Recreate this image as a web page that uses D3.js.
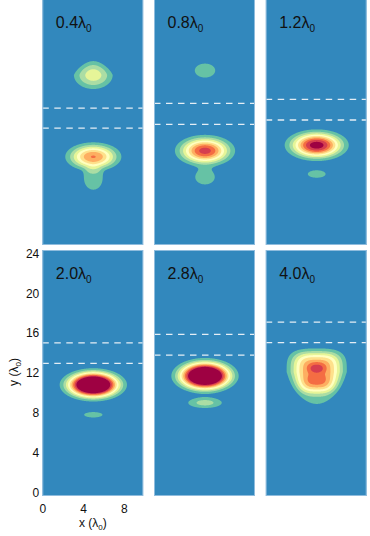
<!DOCTYPE html>
<html>
<head>
<meta charset="utf-8">
<script src="https://cdn.jsdelivr.net/npm/d3@7"></script>
<style>
body { margin: 0; background: #fff; }
svg { display: block; font-family: "Liberation Sans", Arial, sans-serif; }
</style>
</head>
<body>
<div id="chart"></div>
<script>
// propagation distance of each panel (in lambda0)
var times = [0.4, 0.8, 1.2, 2.0, 2.8, 4.0];
// dashed layer boundaries (y, lambda0)
var layerLow = [11.38, 11.76, 12.19, 12.96, 13.79, 15.03];
var layerHigh = [13.39, 13.86, 14.26, 15.02, 15.87, 17.1];

// intensity spots:
// panel, x centre, y centre, outer half width, outer half height, peak,
// flatness across, flatness along, taper (+ narrows above, - narrows below)
var blobs = [
    [0, 5.0, 16.7, 1.9, 1.4, 3.5, 1.2, 1.2, 0.3],
    [0, 5.0, 8.5, 2.75, 1.45, 7.05, 1.15, 1.15, 0],
    [0, 5.0, 6.3, 0.9, 1.1, 1.6, 2.0, 2.0, 0],
    [1, 5.0, 17.15, 1.0, 0.7, 1.4, 1.5, 1.5, 0],
    [1, 5.0, 9.1, 2.95, 1.6, 8.4, 1.15, 1.15, 0],
    [1, 5.0, 6.45, 0.95, 0.72, 1.6, 1.3, 1.3, 0],
    [2, 5.0, 9.66, 3.14, 1.59, 9.6, 1.15, 1.15, 0],
    [2, 5.0, 6.77, 0.87, 0.37, 1.3, 1.5, 1.5, 0],
    [3, 5.0, 10.8, 3.3, 1.67, 14, 1.3, 1.3, 0],
    [3, 5.0, 7.8, 0.9, 0.27, 1.3, 1.5, 1.5, 0],
    [4, 5.0, 11.7, 3.3, 1.8, 14, 1.3, 1.3, 0],
    [4, 5.0, 9.0, 1.64, 0.52, 2.3, 1.3, 1.3, 0],
    [5, 5.0, 12.1, 2.95, 2.35, 7.1, 1.55, 1.85, -0.25],
    [5, 5.0, 10.0, 1.3, 1.1, 1.4, 1.6, 1.6, 0],
    [5, 5.0, 12.5, 0.6, 0.38, 1.2, 2.0, 2.0, 0]
];

var levels = [1, 2, 3, 4, 5, 6, 7, 8, 9];
var levelColors = ["#66c2a5", "#abdda4", "#e6f598", "#ffffbf", "#fee08b",
                   "#fdae61", "#f46d43", "#d53e4f", "#9e0142"];
var background = "#3288bd";

var xTicks = [0, 4, 8];
var yTicks = [0, 4, 8, 12, 16, 20, 24];

var W = 370, H = 536;
var colLeft = [42.3, 154, 265.7];
var rowTop = [-1, 250];
var pw = 101, ph = 246;

var xScale = d3.scaleLinear().domain([0, 9.9]).range([0, pw]);
var yScale = d3.scaleLinear().domain([-0.35, 24.33]).range([ph, 0]);

// sampling grid
var gx0 = 0, gy0 = -0.5, step = 0.05;
var nx = 202, ny = 500;

function fieldFor(panel){
    var mine = blobs.filter(function(b){ return b[0] == panel; });
    var values = new Float64Array(nx * ny);
    mine.forEach(function(b){
        var cx = b[1], cy = b[2], rx = b[3], ry = b[4], A = b[5];
        var px = b[6], py = b[7], taper = b[8];
        var L = 2 * Math.log(A);
        var sx = rx / Math.pow(L, 1 / (2 * px)), sy = ry / Math.pow(L, 1 / (2 * py));
        var sgn = taper < 0 ? -1 : 1, ta = Math.abs(taper);
        var same = px == py;
        for(var j = 0; j < ny; j++){
            var dy = gy0 + j * step - cy;
            var f = 1 - ta * Math.max(0, sgn * dy) / ry;
            var sxe = sx * Math.max(0.25, f);
            var v = (dy / sy) * (dy / sy);
            for(var i = 0; i < nx; i++){
                var dx = gx0 + i * step - cx;
                var u = (dx / sxe) * (dx / sxe);
                var q = same ? Math.pow(u + v, px) : Math.pow(u, px) + Math.pow(v, py);
                values[i + j * nx] += A * Math.exp(-0.5 * q);
            }
        }
    });
    return values;
}

var svg = d3.select("#chart").append("svg")
    .attr("width", W)
    .attr("height", H);

var contours = d3.contours().size([nx, ny]).thresholds(levels);

var proj = d3.geoTransform({
    point: function(x, y){
        this.stream.point(xScale(gx0 + (x - 0.5) * step), yScale(gy0 + (y - 0.5) * step));
    }
});
var path = d3.geoPath(proj);

times.forEach(function(t, k){
    var col = k % 3, row = Math.floor(k / 3);
    var g = svg.append("g")
        .attr("class", "panel")
        .attr("transform", "translate(" + [colLeft[col], rowTop[row]] + ")");

    g.append("clipPath").attr("id", "clip" + k)
        .append("rect").attr("width", pw).attr("height", ph);

    var plot = g.append("g").attr("clip-path", "url(#clip" + k + ")");

    plot.append("rect")
        .attr("width", pw)
        .attr("height", ph)
        .style("fill", background);

    plot.selectAll("path.band")
        .data(contours(fieldFor(k)))
        .enter()
        .append("path")
        .attr("class", "band")
        .attr("d", path)
        .style("fill", function(d, i){ return levelColors[i]; });

    plot.selectAll("line.layer")
        .data([layerLow[k], layerHigh[k]])
        .enter()
        .append("line")
        .attr("class", "layer")
        .attr("x1", 0)
        .attr("x2", pw)
        .attr("y1", function(d){ return yScale(d); })
        .attr("y2", function(d){ return yScale(d); })
        .style("stroke", "#e4edf5")
        .style("stroke-width", 1.3)
        .style("stroke-dasharray", "6.5,5.5");

    g.append("rect")
        .attr("x", 0.5)
        .attr("y", 0.5)
        .attr("width", pw - 1)
        .attr("height", ph - 1)
        .style("fill", "none")
        .style("stroke", "#8fbcdd")
        .style("stroke-width", 1);

    var label = g.append("text")
        .attr("x", 13.5)
        .attr("y", 28.5)
        .style("font-size", "16px")
        .style("fill", "#111");
    label.append("tspan").text(t.toFixed(1) + "λ");
    label.append("tspan").attr("dy", 4).style("font-size", "10px").text("0");

    if(col == 0 && row == 1){
        var ya = g.append("g").call(d3.axisLeft(yScale).tickValues(yTicks).tickSize(0).tickPadding(3));
        var xa = g.append("g").attr("transform", "translate(0," + ph + ")")
            .call(d3.axisBottom(xScale).tickValues(xTicks).tickSize(0).tickPadding(8));
        [ya, xa].forEach(function(a){
            a.select(".domain").remove();
            a.selectAll("text")
                .style("font-size", "12px")
                .style("font-family", "Liberation Sans, Arial, sans-serif")
                .style("fill", "#111");
        });
    }
});

// axis titles
var xt = svg.append("text")
    .attr("x", colLeft[0] + pw / 2)
    .attr("y", 527)
    .attr("text-anchor", "middle")
    .style("font-size", "12px")
    .style("fill", "#111");
xt.append("tspan").text("x (λ");
xt.append("tspan").attr("dy", 3).style("font-size", "8px").text("0");
xt.append("tspan").attr("dy", -3).text(")");

var yt = svg.append("text")
    .attr("transform", "translate(17.5,372) rotate(-90)")
    .attr("text-anchor", "middle")
    .style("font-size", "12px")
    .style("fill", "#111");
yt.append("tspan").text("y (λ");
yt.append("tspan").attr("dy", 3).style("font-size", "8px").text("0");
yt.append("tspan").attr("dy", -3).text(")");
</script>
</body>
</html>
